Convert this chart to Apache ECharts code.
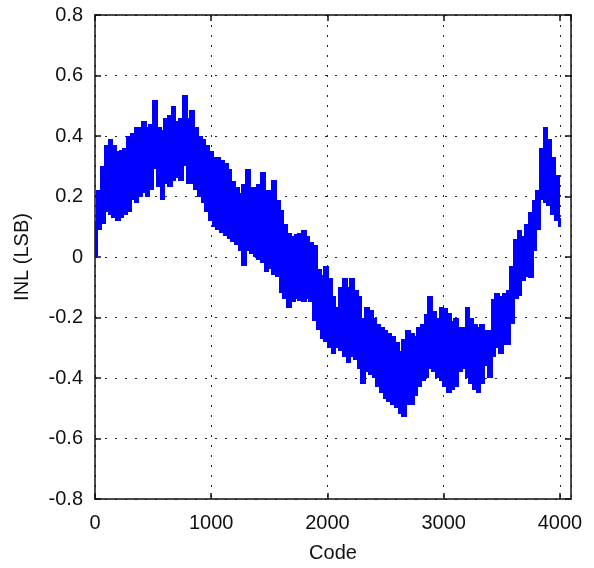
<!DOCTYPE html>
<html>
<head>
<meta charset="utf-8">
<script src="https://cdn.jsdelivr.net/npm/echarts@6/dist/echarts.min.js"></script>
<style>
html,body{margin:0;padding:0;background:#fff;}
#chart{width:594px;height:568px;}
</style>
</head>
<body>
<div id="chart"></div>
<script>
// Codes sampled along the curve (step of 32 codes)
var codes = [0,32,64,96,128,160,192,224,256,288,320,352,384,416,448,480,512,544,576,608,640,672,704,736,768,800,832,864,896,928,960,992,1024,1056,1088,1120,1152,1184,1216,1248,1280,1312,1344,1376,1408,1440,1472,1504,1536,1568,1600,1632,1664,1696,1728,1760,1792,1824,1856,1888,1920,1952,1984,2016,2048,2080,2112,2144,2176,2208,2240,2272,2304,2336,2368,2400,2432,2464,2496,2528,2560,2592,2624,2656,2688,2720,2752,2784,2816,2848,2880,2912,2944,2976,3008,3040,3072,3104,3136,3168,3200,3232,3264,3296,3328,3360,3392,3424,3456,3488,3520,3552,3584,3616,3648,3680,3712,3744,3776,3808,3840,3872,3904,3936,3968,4000];
// Upper edge of the INL trace (LSB)
var inlUpper = [0.12,0.22,0.30,0.37,0.39,0.37,0.35,0.355,0.36,0.40,0.41,0.43,0.43,0.45,0.43,0.44,0.52,0.43,0.42,0.46,0.47,0.50,0.45,0.46,0.535,0.46,0.485,0.43,0.40,0.39,0.37,0.35,0.33,0.33,0.32,0.31,0.29,0.25,0.23,0.21,0.24,0.29,0.23,0.23,0.24,0.28,0.22,0.22,0.255,0.19,0.155,0.11,0.08,0.07,0.075,0.08,0.09,0.07,0.05,0.04,-0.04,-0.06,-0.03,-0.07,-0.13,-0.165,-0.10,-0.07,-0.10,-0.07,-0.11,-0.13,-0.20,-0.165,-0.175,-0.20,-0.22,-0.23,-0.24,-0.25,-0.26,-0.28,-0.31,-0.27,-0.24,-0.25,-0.26,-0.23,-0.22,-0.19,-0.13,-0.18,-0.20,-0.165,-0.17,-0.185,-0.21,-0.20,-0.23,-0.23,-0.165,-0.20,-0.22,-0.23,-0.22,-0.24,-0.24,-0.14,-0.12,-0.13,-0.12,-0.11,-0.03,0.06,0.09,0.07,0.11,0.15,0.19,0.22,0.36,0.43,0.39,0.33,0.27,0.13];
// Lower edge of the INL trace (LSB)
var inlLower = [0.00,0.09,0.11,0.15,0.14,0.13,0.12,0.13,0.14,0.15,0.19,0.18,0.20,0.21,0.20,0.22,0.29,0.23,0.19,0.24,0.23,0.25,0.26,0.25,0.30,0.24,0.24,0.22,0.20,0.18,0.15,0.12,0.10,0.09,0.08,0.07,0.06,0.05,0.04,0.02,-0.03,0.02,0.01,0.00,-0.01,-0.02,-0.05,-0.04,-0.06,-0.065,-0.12,-0.14,-0.17,-0.15,-0.14,-0.145,-0.15,-0.14,-0.15,-0.21,-0.24,-0.27,-0.28,-0.30,-0.32,-0.30,-0.31,-0.33,-0.35,-0.33,-0.34,-0.37,-0.42,-0.38,-0.39,-0.40,-0.43,-0.45,-0.47,-0.48,-0.49,-0.50,-0.52,-0.53,-0.49,-0.49,-0.46,-0.43,-0.41,-0.40,-0.37,-0.38,-0.40,-0.41,-0.43,-0.45,-0.44,-0.43,-0.38,-0.37,-0.40,-0.42,-0.44,-0.45,-0.42,-0.36,-0.40,-0.33,-0.30,-0.32,-0.29,-0.29,-0.22,-0.14,-0.13,-0.08,-0.065,-0.07,0.02,0.09,0.19,0.18,0.17,0.14,0.12,0.10];
var xTicks = [0,1000,2000,3000,4000];
var yTicks = [-0.8,-0.6,-0.4,-0.2,0,0.2,0.4,0.6,0.8];

// Each sample covers the code span up to halfway to its neighbours (stair-like trace)
var bandData = [];
for (var i = 0; i < codes.length; i++) {
  var c0 = i === 0 ? codes[0] : (codes[i-1] + codes[i]) / 2;
  var c1 = i === codes.length - 1 ? codes[i] : (codes[i] + codes[i+1]) / 2;
  bandData.push([c0, c1, inlUpper[i], inlLower[i]]);
}

var font = 'Liberation Sans, Arial, sans-serif';
var dotted = {color:'#222', width:1, type:[2,8]};
var axisLineStyle = {show:true, onZero:false, lineStyle:{color:'#111', width:1.5}};
var tickStyle = {show:true, inside:true, length:6, lineStyle:{color:'#111', width:1.5}};
var blue = '#0000ff';

function renderBand(params, api) {
  var p0 = api.coord([api.value(0), api.value(2)]);
  var p1 = api.coord([api.value(1), api.value(3)]);
  var x0 = Math.floor(Math.min(p0[0], p1[0]));
  var x1 = Math.ceil(Math.max(p0[0], p1[0])) + 1;
  var y0 = Math.round(Math.min(p0[1], p1[1]));
  var y1 = Math.round(Math.max(p0[1], p1[1]));
  return {
    type:'rect',
    shape:{x:x0, y:y0, width:Math.max(1, x1-x0), height:Math.max(1, y1-y0)},
    style:{fill:blue}
  };
}

var chart = echarts.init(document.getElementById('chart'), null, {renderer:'canvas'});
chart.setOption({
  animation:false,
  backgroundColor:'#fff',
  grid:{left:95, right:23, top:15, bottom:69, containLabel:false},
  xAxis:[{
    type:'value', min:0, max:4095, interval:1000,
    name:'Code', nameLocation:'middle', nameGap:44,
    nameTextStyle:{fontFamily:font, fontSize:20, color:'#111'},
    axisLine:axisLineStyle, axisTick:tickStyle,
    axisLabel:{fontFamily:font, fontSize:20, color:'#111', margin:14, showMaxLabel:false,
      formatter:function(v){return xTicks.indexOf(v)>=0 ? String(v) : '';}},
    splitLine:{show:true, lineStyle:dotted}
  },{
    type:'value', position:'top', min:0, max:4095, interval:1000,
    axisLine:axisLineStyle, axisTick:tickStyle,
    axisLabel:{show:false}, splitLine:{show:false}
  }],
  yAxis:[{
    type:'value', min:-0.8, max:0.8, interval:0.2,
    name:'INL (LSB)', nameLocation:'middle', nameGap:63,
    nameTextStyle:{fontFamily:font, fontSize:20, color:'#111'},
    axisLine:axisLineStyle, axisTick:tickStyle,
    axisLabel:{fontFamily:font, fontSize:20, color:'#111', margin:12,
      formatter:function(v){var r=Math.round(v*10)/10; return r===0?'0':r.toFixed(1);}},
    splitLine:{show:true, lineStyle:dotted}
  },{
    type:'value', position:'right', min:-0.8, max:0.8, interval:0.2,
    axisLine:axisLineStyle, axisTick:tickStyle,
    axisLabel:{show:false}, splitLine:{show:false}
  }],
  series:[{
    type:'custom', renderItem:renderBand, data:bandData,
    encode:{x:[0,1], y:[2,3]}, silent:true, z:2
  }]
});
</script>
</body>
</html>
